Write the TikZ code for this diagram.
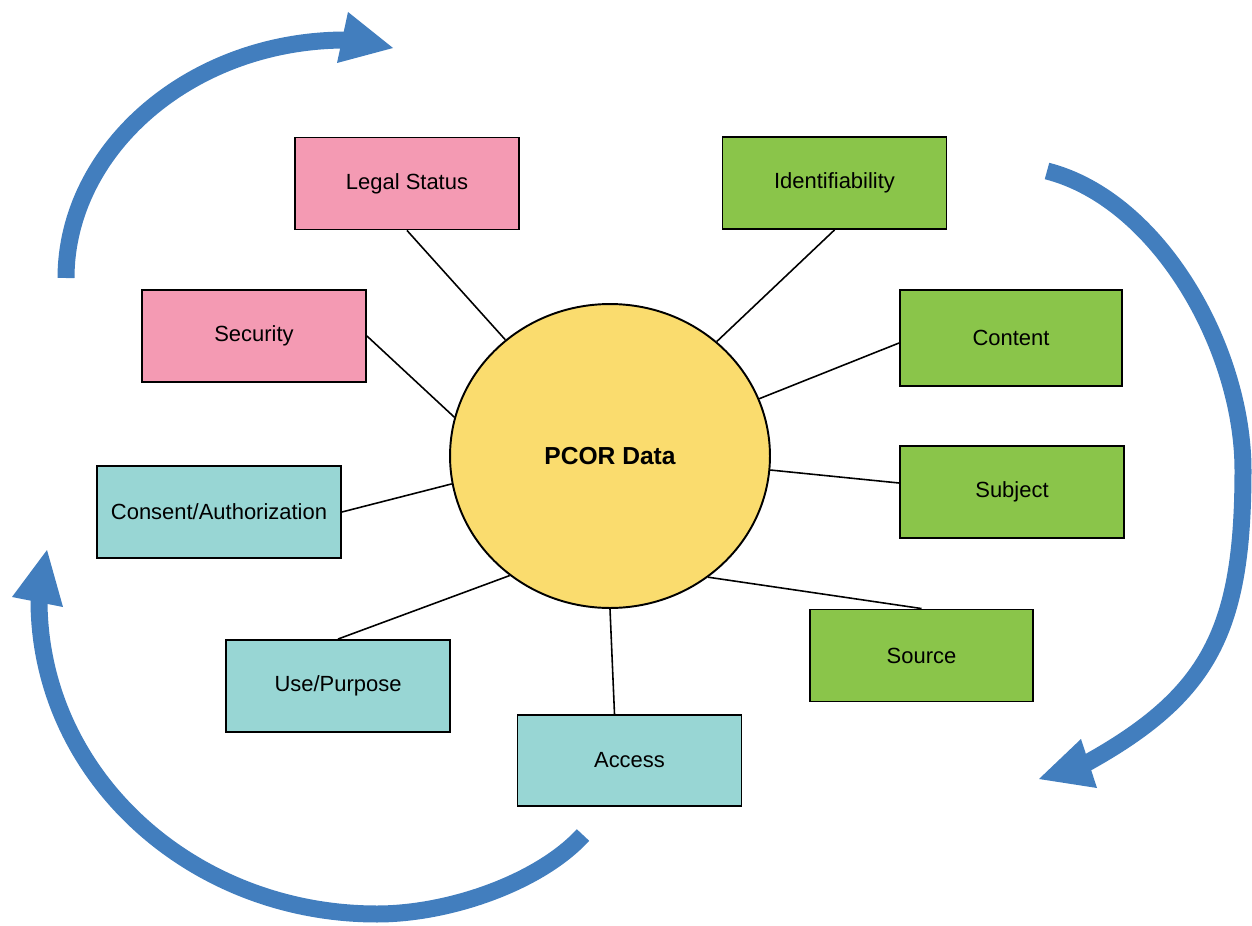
\documentclass[tikz,border=0pt]{standalone}
\usepackage{fontspec}
\setmainfont{Liberation Sans}
\usetikzlibrary{shapes.geometric,calc}
\definecolor{arrowblue}{RGB}{66,126,190}
\definecolor{pinkfill}{RGB}{244,154,179}
\definecolor{greenfill}{RGB}{138,197,74}
\definecolor{tealfill}{RGB}{152,214,212}
\definecolor{yellowfill}{RGB}{250,220,110}
\begin{document}
\begin{tikzpicture}[x=0.02cm,y=-0.02cm,
  box/.style={draw=black, line width=1.1pt, minimum width=4.48cm, minimum height=1.84cm,
    inner sep=0pt, font=\fontsize{12.5}{15}\selectfont},
  pinkbox/.style={box, fill=pinkfill},
  greenbox/.style={box, fill=greenfill},
  tealbox/.style={box, fill=tealfill},
  link/.style={draw=black, line width=0.9pt},
  bigarrow/.style={draw=arrowblue, line width=0.34cm},
  headtip/.style={fill=arrowblue}]
\useasboundingbox (0,0) rectangle (1252,926);

% centre
\node[ellipse, draw=black, line width=1.1pt, fill=yellowfill, minimum width=6.4cm, minimum height=6.08cm,
  inner sep=0pt, font=\fontsize{14}{17}\selectfont\bfseries] (pcor) at (610,456) {PCOR Data};

% boxes
\node[pinkbox] (legal) at (407,183.5) {Legal Status};
\node[pinkbox] (security) at (254,336) {Security};
\node[greenbox] (ident) at (834.5,183) {Identifiability};
\node[greenbox, minimum width=4.44cm, minimum height=1.92cm] (content) at (1011,338) {Content};
\node[greenbox] (subject) at (1012,492) {Subject};
\node[greenbox, minimum width=4.46cm] (source) at (921.5,655.5) {Source};
\node[tealbox, minimum width=4.88cm] (consent) at (219,512) {Consent/Authorization};
\node[tealbox] (use) at (338,686) {Use/Purpose};
\node[tealbox, minimum height=1.82cm] (access) at (629.5,760.5) {Access};

% connectors
\draw[link] (legal.south) -- (pcor.132.7);
\draw[link] (ident.south) -- (pcor.47.8);
\draw[link] (security.east) -- (pcor.166.9);
\draw[link] ($(content.west)+(0,5)$) -- (pcor.21.1);
\draw[link] (consent.east) -- (pcor.190.4);
\draw[link] ($(subject.west)+(0,-9)$) -- (pcor.-5);
\draw[link] (use.north) -- (pcor.230.7);
\draw[link] (source.north) -- (pcor.-51.8);
\draw[link] ($(access.north)+(-15,0)$) -- (pcor.-90);

% top-left cycle arrow
\draw[bigarrow] (66,278) .. controls (66,150) and (190,40) .. (346,40);
\fill[headtip] (348,12) -- (393,48) -- (337,63) -- cycle;

% right cycle arrow
\draw[bigarrow] (1047,171) .. controls (1160,200) and (1243,350) .. (1243,470)
  .. controls (1243,630) and (1210,695) .. (1085,764);
\fill[headtip] (1081,739) -- (1039,779) -- (1097,788) -- cycle;

% bottom-left cycle arrow
\draw[bigarrow] (583,835) .. controls (540,882) and (450,914) .. (377,914)
  .. controls (191,914) and (39,775) .. (39,600);
\fill[headtip] (12,597) -- (47,550) -- (63,607) -- cycle;
\end{tikzpicture}
\end{document}
